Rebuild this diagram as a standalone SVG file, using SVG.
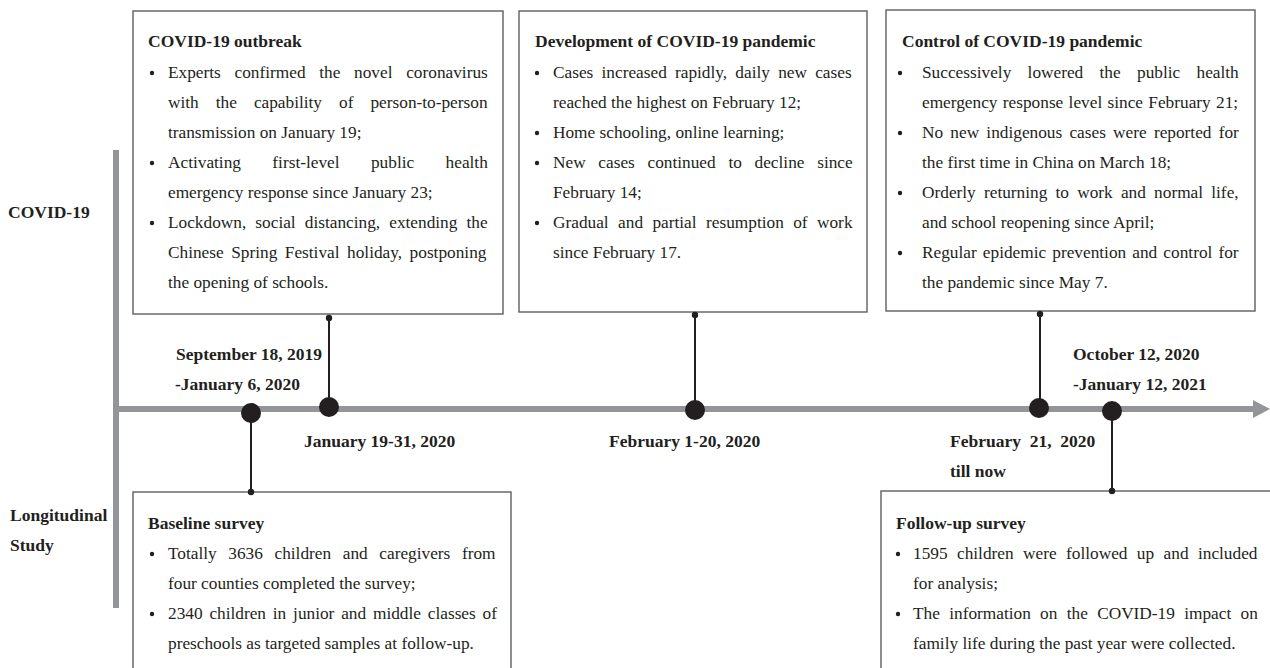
<svg xmlns="http://www.w3.org/2000/svg" width="1270" height="668" viewBox="0 0 1270 668">
<style>
text{font-family:"Liberation Serif","Times New Roman",serif;fill:#231f20;}
.b{font-size:17.3px;}
.h{font-size:17.5px;font-weight:bold;}
.box{fill:#fff;stroke:#5d5e60;stroke-width:1.4;}
.bul{fill:#231f20;}
.con{stroke:#231f20;stroke-width:2;fill:none;}
.dot{fill:#231f20;}
.pre{white-space:pre;}
</style>
<rect width="1270" height="668" fill="#fff"/>
<g id="axis">
<rect x="113" y="150" width="6" height="458" fill="#939598"/>
<rect x="116" y="406" width="1140" height="6" fill="#939598"/>
<polygon points="1253,400 1270,409 1253,418" fill="#939598"/>
</g>
<g id="side-labels">
<text class="h" x="8" y="218">COVID-19</text>
<text class="h" x="10" y="521">Longitudinal</text>
<text class="h" x="10" y="551">Study</text>
</g>
<g id="outbreak">
<rect class="box" x="133" y="11" width="370" height="303"/>
<text class="h" x="148" y="47">COVID-19 outbreak</text>
<circle class="bul" cx="152" cy="73" r="2.2"/>
<circle class="bul" cx="152" cy="163" r="2.2"/>
<circle class="bul" cx="152" cy="223" r="2.2"/>
<text class="b" x="168" y="78" word-spacing="9.4">Experts confirmed the novel coronavirus</text>
<text class="b" x="168" y="108" word-spacing="12.7">with the capability of person-to-person</text>
<text class="b" x="168" y="138">transmission on January 19;</text>
<text class="b" x="168" y="168" word-spacing="27.1">Activating first-level public health</text>
<text class="b" x="168" y="198">emergency response since January 23;</text>
<text class="b" x="168" y="228" word-spacing="4.8">Lockdown, social distancing, extending the</text>
<text class="b" x="168" y="258" word-spacing="3.2">Chinese Spring Festival holiday, postponing</text>
<text class="b" x="168" y="288">the opening of schools.</text>
</g>
<g id="development">
<rect class="box" x="519" y="11" width="348" height="301"/>
<text class="h" x="535" y="47">Development of COVID-19 pandemic</text>
<circle class="bul" cx="537" cy="73" r="2.2"/>
<circle class="bul" cx="537" cy="133" r="2.2"/>
<circle class="bul" cx="537" cy="163" r="2.2"/>
<circle class="bul" cx="537" cy="223" r="2.2"/>
<text class="b" x="553" y="78" word-spacing="3.9">Cases increased rapidly, daily new cases</text>
<text class="b" x="553" y="108">reached the highest on February 12;</text>
<text class="b" x="553" y="138">Home schooling, online learning;</text>
<text class="b" x="553" y="168" word-spacing="8.4">New cases continued to decline since</text>
<text class="b" x="553" y="198">February 14;</text>
<text class="b" x="553" y="228" word-spacing="5.1">Gradual and partial resumption of work</text>
<text class="b" x="553" y="258">since February 17.</text>
</g>
<g id="control">
<rect class="box" x="886" y="10" width="369" height="301"/>
<text class="h" x="902" y="47">Control of COVID-19 pandemic</text>
<circle class="bul" cx="900" cy="73" r="2.2"/>
<circle class="bul" cx="900" cy="133" r="2.2"/>
<circle class="bul" cx="900" cy="193" r="2.2"/>
<circle class="bul" cx="900" cy="253" r="2.2"/>
<text class="b" x="922" y="78" word-spacing="12">Successively lowered the public health</text>
<text class="b" x="922" y="108" word-spacing="1">emergency response level since February 21;</text>
<text class="b" x="922" y="138" word-spacing="2.9">No new indigenous cases were reported for</text>
<text class="b" x="922" y="168">the first time in China on March 18;</text>
<text class="b" x="922" y="198" word-spacing="3.9">Orderly returning to work and normal life,</text>
<text class="b" x="922" y="228">and school reopening since April;</text>
<text class="b" x="922" y="258" word-spacing="1.8">Regular epidemic prevention and control for</text>
<text class="b" x="922" y="288">the pandemic since May 7.</text>
</g>
<g id="baseline">
<rect class="box" x="133" y="492" width="378" height="190"/>
<text class="h" x="148" y="529">Baseline survey</text>
<circle class="bul" cx="152" cy="554" r="2.2"/>
<circle class="bul" cx="152" cy="614" r="2.2"/>
<text class="b" x="168" y="559" word-spacing="7.3">Totally 3636 children and caregivers from</text>
<text class="b" x="168" y="589">four counties completed the survey;</text>
<text class="b" x="168" y="619" word-spacing="2.5">2340 children in junior and middle classes of</text>
<text class="b" x="168" y="649">preschools as targeted samples at follow-up.</text>
</g>
<g id="followup">
<rect class="box" x="881" y="491" width="400" height="190"/>
<text class="h" x="896" y="529">Follow-up survey</text>
<circle class="bul" cx="898" cy="554" r="2.2"/>
<circle class="bul" cx="898" cy="614" r="2.2"/>
<text class="b" x="913" y="559" word-spacing="5.1">1595 children were followed up and included</text>
<text class="b" x="913" y="589">for analysis;</text>
<text class="b" x="913" y="619" word-spacing="5">The information on the COVID-19 impact on</text>
<text class="b" x="913" y="649">family life during the past year were collected.</text>
</g>
<g id="date-labels">
<text class="h" x="176" y="360">September 18, 2019</text>
<text class="h" x="175" y="390">-January 6, 2020</text>
<text class="h" x="304" y="447">January 19-31, 2020</text>
<text class="h" x="609" y="447">February 1-20, 2020</text>
<text class="h pre" x="950" y="447">February  21,  2020</text>
<text class="h" x="950" y="477">till now</text>
<text class="h" x="1073" y="360">October 12, 2020</text>
<text class="h" x="1073" y="390">-January 12, 2021</text>
</g>
<g id="connectors">
<line class="con" x1="329" y1="318" x2="329" y2="407"/>
<circle class="dot" cx="329" cy="318" r="3.2"/>
<circle class="dot" cx="329" cy="407" r="10"/>
<line class="con" x1="695" y1="315" x2="695" y2="410"/>
<circle class="dot" cx="695" cy="315" r="3.2"/>
<circle class="dot" cx="695" cy="410" r="10"/>
<line class="con" x1="1040" y1="314" x2="1040" y2="408"/>
<circle class="dot" cx="1040" cy="314" r="3.2"/>
<circle class="dot" cx="1039" cy="408" r="10"/>
<line class="con" x1="251" y1="413" x2="251" y2="492"/>
<circle class="dot" cx="251" cy="492" r="3.2"/>
<circle class="dot" cx="251" cy="413" r="10"/>
<line class="con" x1="1112" y1="411" x2="1112" y2="491"/>
<circle class="dot" cx="1112" cy="491" r="3.2"/>
<circle class="dot" cx="1112" cy="411" r="10"/>
</g>
</svg>
